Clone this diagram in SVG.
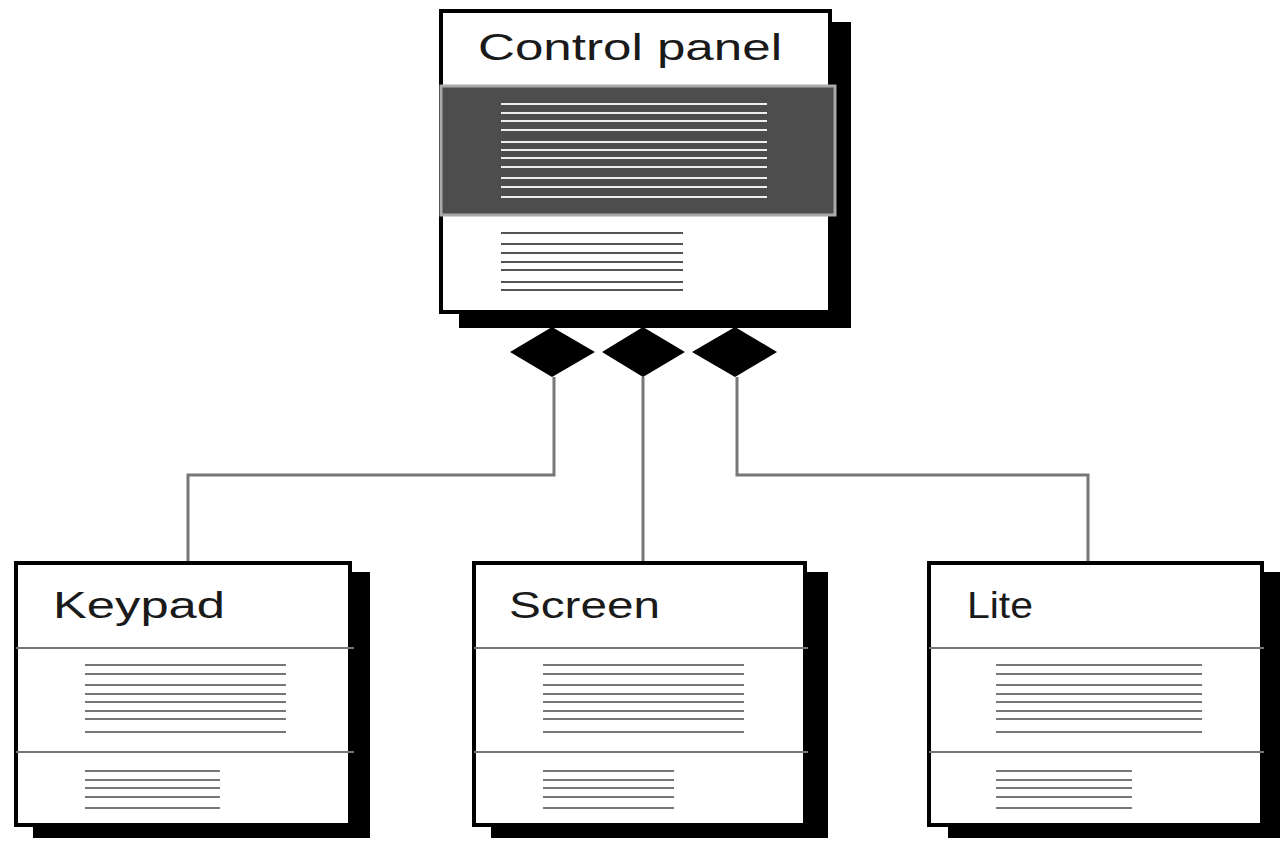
<svg xmlns="http://www.w3.org/2000/svg" width="1282" height="841" viewBox="0 0 1282 841">
<style>
.shadow{fill:#000}
.box{fill:#fff;stroke:#000;stroke-width:4}
.div{stroke:#777;stroke-width:2}
.ln{stroke:#777;stroke-width:2}
.wl{stroke:#eee;stroke-width:2}
.lbl{font-family:"Liberation Sans",Arial,sans-serif;font-size:37px;fill:#1a1a1a}
.conn{fill:none;stroke:#777;stroke-width:3}
.dia{fill:#000}
</style>
<rect width="1282" height="841" fill="#fff"/>
<g id="connectors">
<path class="conn" d="M554 377 V475 H188 V563"/>
<path class="conn" d="M643 377 V563"/>
<path class="conn" d="M737 377 V475 H1088 V563"/>
</g>
<g id="control-panel">
<rect class="shadow" x="459" y="22" width="392" height="306"/>
<rect class="box" x="441" y="11" width="389" height="301"/>
<rect x="441" y="86" width="394" height="129" fill="#4d4d4d" stroke="#aaa" stroke-width="3"/>
<text class="lbl" x="478" y="60" textLength="304" lengthAdjust="spacingAndGlyphs">Control panel</text>
<g class="wl">
<line x1="501" y1="104" x2="767" y2="104"/><line x1="501" y1="113" x2="767" y2="113"/>
<line x1="501" y1="121" x2="767" y2="121"/><line x1="501" y1="130" x2="767" y2="130"/>
<line x1="501" y1="142" x2="767" y2="142"/><line x1="501" y1="150" x2="767" y2="150"/>
<line x1="501" y1="158" x2="767" y2="158"/><line x1="501" y1="167" x2="767" y2="167"/>
<line x1="501" y1="178" x2="767" y2="178"/><line x1="501" y1="187" x2="767" y2="187"/>
<line x1="501" y1="197" x2="767" y2="197"/>
</g>
<g stroke="#555" stroke-width="2">
<line x1="501" y1="233" x2="683" y2="233"/><line x1="501" y1="244" x2="683" y2="244"/>
<line x1="501" y1="253" x2="683" y2="253"/><line x1="501" y1="262" x2="683" y2="262"/>
<line x1="501" y1="270" x2="683" y2="270"/><line x1="501" y1="282" x2="683" y2="282"/>
<line x1="501" y1="290" x2="683" y2="290"/>
</g>
<polygon class="dia" points="510,352 552,327 595,352 552,377"/>
<polygon class="dia" points="602,352 643,327 685,352 643,377"/>
<polygon class="dia" points="692,352 735,327 777,352 735,377"/>
</g>
<g id="keypad">
<rect class="shadow" x="33" y="572" width="337" height="266"/>
<rect class="box" x="16" y="563" width="334" height="262"/>
<line class="div" x1="16" y1="648" x2="354" y2="648"/>
<line class="div" x1="16" y1="752" x2="354" y2="752"/>
<text class="lbl" x="53" y="618" textLength="172" lengthAdjust="spacingAndGlyphs">Keypad</text>
<g class="ln">
<line x1="85" y1="665" x2="286" y2="665"/><line x1="85" y1="674" x2="286" y2="674"/>
<line x1="85" y1="685" x2="286" y2="685"/><line x1="85" y1="694" x2="286" y2="694"/>
<line x1="85" y1="702" x2="286" y2="702"/><line x1="85" y1="711" x2="286" y2="711"/>
<line x1="85" y1="719" x2="286" y2="719"/><line x1="85" y1="732" x2="286" y2="732"/>
<line x1="85" y1="771" x2="220" y2="771"/><line x1="85" y1="780" x2="220" y2="780"/>
<line x1="85" y1="788" x2="220" y2="788"/><line x1="85" y1="797" x2="220" y2="797"/>
<line x1="85" y1="808" x2="220" y2="808"/>
</g>
</g>
<g id="screen">
<rect class="shadow" x="491" y="572" width="337" height="266"/>
<rect class="box" x="474" y="563" width="331" height="262"/>
<line class="div" x1="474" y1="648" x2="808" y2="648"/>
<line class="div" x1="474" y1="752" x2="808" y2="752"/>
<text class="lbl" x="509" y="618" textLength="151" lengthAdjust="spacingAndGlyphs">Screen</text>
<g class="ln">
<line x1="543" y1="665" x2="744" y2="665"/><line x1="543" y1="674" x2="744" y2="674"/>
<line x1="543" y1="685" x2="744" y2="685"/><line x1="543" y1="694" x2="744" y2="694"/>
<line x1="543" y1="702" x2="744" y2="702"/><line x1="543" y1="711" x2="744" y2="711"/>
<line x1="543" y1="719" x2="744" y2="719"/><line x1="543" y1="732" x2="744" y2="732"/>
<line x1="543" y1="771" x2="674" y2="771"/><line x1="543" y1="780" x2="674" y2="780"/>
<line x1="543" y1="788" x2="674" y2="788"/><line x1="543" y1="797" x2="674" y2="797"/>
<line x1="543" y1="808" x2="674" y2="808"/>
</g>
</g>
<g id="lite">
<rect class="shadow" x="948" y="572" width="332" height="266"/>
<rect class="box" x="929" y="563" width="333" height="262"/>
<line class="div" x1="929" y1="648" x2="1264" y2="648"/>
<line class="div" x1="929" y1="752" x2="1264" y2="752"/>
<text class="lbl" x="967" y="618" textLength="66" lengthAdjust="spacingAndGlyphs">Lite</text>
<g class="ln">
<line x1="996" y1="665" x2="1202" y2="665"/><line x1="996" y1="674" x2="1202" y2="674"/>
<line x1="996" y1="685" x2="1202" y2="685"/><line x1="996" y1="694" x2="1202" y2="694"/>
<line x1="996" y1="702" x2="1202" y2="702"/><line x1="996" y1="711" x2="1202" y2="711"/>
<line x1="996" y1="719" x2="1202" y2="719"/><line x1="996" y1="732" x2="1202" y2="732"/>
<line x1="996" y1="771" x2="1132" y2="771"/><line x1="996" y1="780" x2="1132" y2="780"/>
<line x1="996" y1="788" x2="1132" y2="788"/><line x1="996" y1="797" x2="1132" y2="797"/>
<line x1="996" y1="808" x2="1132" y2="808"/>
</g>
</g>
</svg>
